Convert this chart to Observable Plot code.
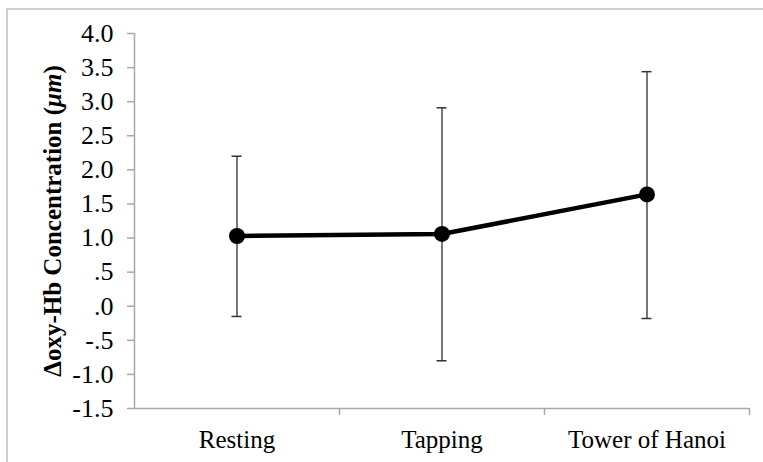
<!DOCTYPE html>
<html>
<head>
<meta charset="utf-8">
<script src="https://cdn.jsdelivr.net/npm/d3@7"></script>
<script src="https://cdn.jsdelivr.net/npm/@observablehq/plot@0.6"></script>
<style>
  html, body { margin: 0; padding: 0; background: #fff; }
  #wrap { position: relative; width: 763px; height: 462px; overflow: hidden; }
  #frame { position: absolute; left: 6px; top: 8px; width: 900px; height: 600px;
           border-left: 2px solid #cfcfcf; border-top: 2px solid #cfcfcf; pointer-events: none; }
</style>
</head>
<body>
<div id="wrap"><div id="frame"></div></div>
<script>
const categories = ["Resting", "Tapping", "Tower of Hanoi"];
const means = [1.03, 1.06, 1.64];
const lower = [-0.15, -0.80, -0.18];
const upper = [2.20, 2.91, 3.44];
const yTicks = [-1.5, -1.0, -0.5, 0, 0.5, 1.0, 1.5, 2.0, 2.5, 3.0, 3.5, 4.0];
const yTickLabels = ["-1.5", "-1.0", "-.5", ".0", ".5", "1.0", "1.5", "2.0", "2.5", "3.0", "3.5", "4.0"];
const yLabel = "\u0394oxy-Hb Concentration (";
const yLabelUnit = "\u03bcm";

const data = categories.map((c, i) => ({i, c, mean: means[i], lo: lower[i], hi: upper[i]}));
const boundaries = categories.map((c, i) => i + 0.5);

const axisColor = "#a8a8a8";
const chart = Plot.plot({
  width: 763,
  height: 462,
  marginLeft: 134,
  marginRight: 14,
  marginTop: 33,
  marginBottom: 54,
  style: {fontFamily: "'Liberation Serif', 'Times New Roman', serif", fontSize: "25px", background: "transparent", color: "#000"},
  x: {type: "linear", domain: [-0.5, categories.length - 0.5], axis: null},
  y: {domain: [-1.5, 4], axis: null},
  marks: [
    Plot.ruleY([-1.5], {stroke: axisColor, strokeWidth: 1.5}),
    Plot.ruleX([-0.5], {stroke: axisColor, strokeWidth: 1.5}),
    Plot.axisY({ticks: yTicks, tickFormat: d => yTickLabels[yTicks.indexOf(d)], tickSize: 7, tickPadding: 14, stroke: axisColor, strokeWidth: 1.5, label: null, fill: "#000", fontSize: 26}),
    Plot.axisX({ticks: boundaries, tickFormat: () => "", tickSize: 7, stroke: axisColor, strokeWidth: 1.5, label: null}),
    Plot.axisX({ticks: categories.map((c, i) => i), tickFormat: i => categories[i], tickSize: 0, tickPadding: 22, label: null, fill: "#000", fontSize: 25}),
    Plot.ruleX(data, {x: "i", y1: "lo", y2: "hi", stroke: "#4a4a4a", strokeWidth: 1.5}),
    Plot.ruleY(data, {y: "hi", x1: "i", x2: "i", insetLeft: -5, insetRight: -5, stroke: "#333", strokeWidth: 1.5}),
    Plot.ruleY(data, {y: "lo", x1: "i", x2: "i", insetLeft: -5, insetRight: -5, stroke: "#333", strokeWidth: 1.5}),
    Plot.line(data, {x: "i", y: "mean", stroke: "#000", strokeWidth: 4.5}),
    Plot.dot(data, {x: "i", y: "mean", r: 8, fill: "#000", stroke: "none"})
  ]
});
document.getElementById("wrap").prepend(chart);

const svg = d3.select(chart);
const t = svg.append("text")
  .attr("transform", "translate(61,221) rotate(-90)")
  .attr("text-anchor", "middle")
  .attr("font-weight", "bold")
  .attr("font-size", 25)
  .attr("fill", "#000");
t.append("tspan").text(yLabel);
t.append("tspan").attr("font-style", "italic").text(yLabelUnit);
t.append("tspan").text(")");
</script>
</body>
</html>
